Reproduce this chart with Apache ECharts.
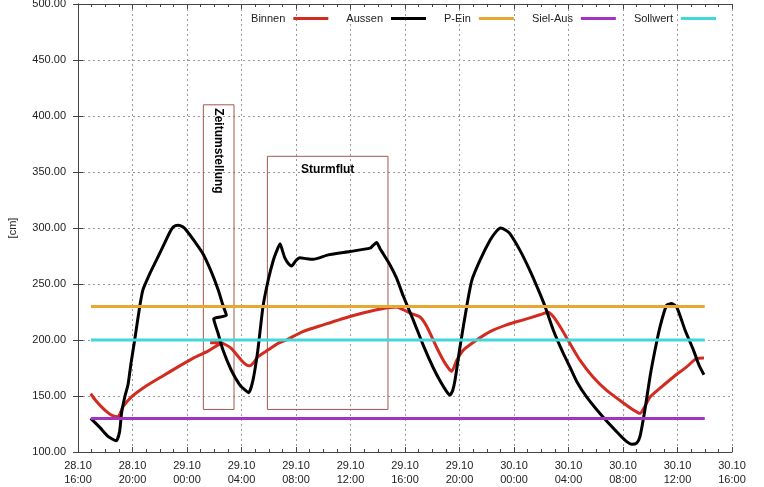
<!DOCTYPE html>
<html>
<head>
<meta charset="utf-8">
<script src="https://cdn.jsdelivr.net/npm/echarts@6/dist/echarts.min.js"></script>
<style>
  html, body { margin: 0; padding: 0; background: #fff; }
  #chart { width: 764px; height: 487px; }
</style>
</head>
<body>
<div id="chart"></div>
<script>
// x values are hours since 28.10 16:00
const tickLabels = ['28.10\n16:00', '28.10\n20:00', '29.10\n00:00', '29.10\n04:00', '29.10\n08:00',
    '29.10\n12:00', '29.10\n16:00', '29.10\n20:00', '30.10\n00:00', '30.10\n04:00',
    '30.10\n08:00', '30.10\n12:00', '30.10\n16:00'];

// Binnen (red) - note the step back at the clock change
const binnen = [
    [0.93, 152], [1.3, 146], [1.71, 140.5], [2.1, 136], [2.45, 133], [2.94, 131.5], [3.15, 136],
    [3.3, 140.5], [3.91, 149], [4.89, 158], [6.1, 167], [7.34, 176], [8.56, 184.5], [9.54, 190],
    [10.2, 195], [10.6, 197.5], [9.7, 197.5], [10.3, 198], [10.8, 196], [11.25, 192.5], [11.98, 182],
    [12.35, 178], [12.6, 177], [12.9, 180], [13.2, 185], [13.94, 191], [14.68, 197], [15.3, 200],
    [16.5, 207.5], [18.0, 213.5], [19.96, 221], [21.92, 227], [22.9, 229], [23.39, 229.5], [23.88, 227],
    [24.37, 224], [25.1, 220.5], [25.6, 212], [26.3, 194], [26.9, 180], [27.43, 172], [27.8, 182],
    [28.28, 191], [29.26, 200], [30.24, 207.5], [31.46, 213.5], [32.68, 218], [33.9, 222.5], [34.5, 224.7],
    [34.88, 221], [35.38, 212], [36.1, 197], [36.84, 182], [37.8, 167], [38.8, 155], [39.78, 146],
    [40.76, 137.5], [41.25, 134.5], [41.6, 140.5], [41.98, 149], [42.72, 157], [43.7, 167], [44.67, 176],
    [45.4, 183.5], [45.94, 184]
];

// Aussen (black)
const aussen = [
    [0.93, 130], [1.6, 122], [2.2, 114], [2.8, 110], [3.05, 118], [3.2, 135], [3.45, 150], [3.67, 160],
    [3.9, 180], [4.16, 200], [4.53, 230], [4.77, 245], [5.26, 259], [5.7, 270], [6.1, 280], [6.73, 296],
    [7.0, 301], [7.34, 302.5], [7.7, 301], [7.95, 298], [8.56, 288], [9.17, 277], [9.78, 261], [10.28, 245],
    [10.64, 231], [10.89, 222], [9.96, 219], [10.28, 206], [10.64, 191], [11.25, 173], [11.87, 160],
    [12.3, 155], [12.53, 153], [12.84, 164], [13.2, 191], [13.58, 230], [13.97, 254], [14.33, 271],
    [14.6, 280], [14.83, 286], [15.0, 280], [15.19, 273], [15.45, 268], [15.68, 266], [16.0, 271],
    [16.29, 273.5], [16.8, 272.5], [17.27, 272], [18.37, 276], [19.96, 279], [21.43, 282], [21.7, 285],
    [21.92, 287], [22.15, 282], [22.4, 277], [22.9, 267], [23.39, 255], [23.88, 239], [24.6, 218],
    [25.35, 195], [26.08, 175], [26.6, 163], [27.06, 154], [27.3, 151], [27.5, 155], [27.67, 164],
    [28.04, 194], [28.53, 230], [28.9, 253], [29.5, 271], [30.24, 289], [30.7, 297], [31.02, 300],
    [31.4, 298], [31.7, 295], [32.44, 280], [33.17, 262], [33.78, 245], [34.28, 230], [34.88, 209],
    [35.62, 188], [36.1, 176], [36.6, 163], [37.34, 149], [38.55, 131], [39.78, 115], [40.3, 109],
    [40.64, 107], [41.0, 108], [41.25, 114], [41.6, 137], [41.98, 167], [42.35, 191], [42.72, 212],
    [43.2, 231], [43.57, 232.5], [43.94, 229.5], [44.55, 209], [45.17, 191], [45.6, 177], [45.94, 169]
];

// thresholds
const pEin = 230;
const sielAus = 130;
const sollwert = 200;
const lineStart = 0.95;
const lineEnd = 46;

// marked periods [xFrom, yTop, xTo, yBottom]
const zeitumstellung = [9.2, 410, 11.45, 138];
const sturmflut = [13.9, 364, 22.75, 138];

const font = 'Liberation Sans, Arial, sans-serif';
const flat = v => [[lineStart, v], [lineEnd, v]];

const chart = echarts.init(document.getElementById('chart'));

const boxStyle = { color: 'rgba(0,0,0,0)', borderColor: '#a4574c', borderWidth: 1 };

chart.setOption({
    animation: false,
    textStyle: { fontFamily: font },
    grid: { left: 78, right: 32, top: 4, bottom: 35, outerBoundsMode: 'none' },
    legend: {
        right: 43, top: 8,
        align: 'right',
        icon: 'rect',
        itemWidth: 35, itemHeight: 3,
        itemGap: 18,
        textStyle: { fontSize: 11, color: '#222', fontFamily: font, padding: [0, 3, 0, 0] },
        data: ['Binnen', 'Aussen', 'P-Ein', 'Siel-Aus', 'Sollwert']
    },
    xAxis: [{
        type: 'value', min: 0, max: 48, interval: 4,
        axisLine: { lineStyle: { color: '#444' } },
        axisTick: { inside: true, length: 5, lineStyle: { color: '#444' } },
        minorTick: { show: true, splitNumber: 4, length: 3, lineStyle: { color: '#444' } },
        splitLine: { lineStyle: { color: '#999', type: [2, 3] } },
        axisLabel: {
            color: '#222', fontSize: 11, lineHeight: 14, margin: 7,
            formatter: v => tickLabels[Math.round(v / 4)]
        }
    }, {
        type: 'value', min: 0, max: 48, interval: 4, position: 'top',
        axisLine: { lineStyle: { color: '#444' } },
        axisTick: { inside: true, length: 5, lineStyle: { color: '#444' } },
        minorTick: { show: true, splitNumber: 4, length: 3, lineStyle: { color: '#444' } },
        splitLine: { show: false },
        axisLabel: { show: false }
    }],
    yAxis: [{
        type: 'value', min: 100, max: 500, interval: 50,
        name: '[cm]', nameLocation: 'middle', nameGap: 60, nameRotate: 90,
        nameTextStyle: { fontSize: 11, color: '#222' },
        axisLine: { show: true, lineStyle: { color: '#444' } },
        axisTick: { show: true, inside: true, length: 5, lineStyle: { color: '#444' } },
        splitLine: { lineStyle: { color: '#999', type: [2, 3] } },
        axisLabel: { color: '#222', fontSize: 11, margin: 12, formatter: v => v.toFixed(2) }
    }, {
        type: 'value', min: 100, max: 500, interval: 50, position: 'right',
        axisLine: { show: true, lineStyle: { color: '#444' } },
        axisTick: { show: true, inside: true, length: 5, lineStyle: { color: '#444' } },
        splitLine: { show: false },
        axisLabel: { show: false }
    }],
    series: [{
        name: 'Binnen', type: 'line', data: binnen, showSymbol: false, smooth: 0.2,
        color: '#d22b1f', lineStyle: { width: 3 }
    }, {
        name: 'Aussen', type: 'line', data: aussen, showSymbol: false, smooth: 0.2,
        color: '#000000', lineStyle: { width: 3 },
        markArea: {
            silent: true,
            itemStyle: boxStyle,
            data: [
                [{
                    xAxis: zeitumstellung[0], yAxis: zeitumstellung[1],
                    label: {
                        show: true, formatter: 'Zeitumstellung', position: ['50%', 4],
                        align: 'left', verticalAlign: 'middle', rotate: -90,
                        fontSize: 12, fontWeight: 'bold', color: '#000', fontFamily: font
                    }
                }, { xAxis: zeitumstellung[2], yAxis: zeitumstellung[3] }],
                [{
                    xAxis: sturmflut[0], yAxis: sturmflut[1],
                    label: {
                        show: true, formatter: 'Sturmflut', position: 'insideTop', distance: 8,
                        fontSize: 12, fontWeight: 'bold', color: '#000', fontFamily: font
                    }
                }, { xAxis: sturmflut[2], yAxis: sturmflut[3] }]
            ]
        }
    }, {
        name: 'P-Ein', type: 'line', data: flat(pEin), showSymbol: false,
        color: '#e8a733', lineStyle: { width: 3 }
    }, {
        name: 'Siel-Aus', type: 'line', data: flat(sielAus), showSymbol: false,
        color: '#a233c4', lineStyle: { width: 3 }
    }, {
        name: 'Sollwert', type: 'line', data: flat(sollwert), showSymbol: false,
        color: '#45d6da', lineStyle: { width: 3 }
    }]
});
</script>
</body>
</html>
